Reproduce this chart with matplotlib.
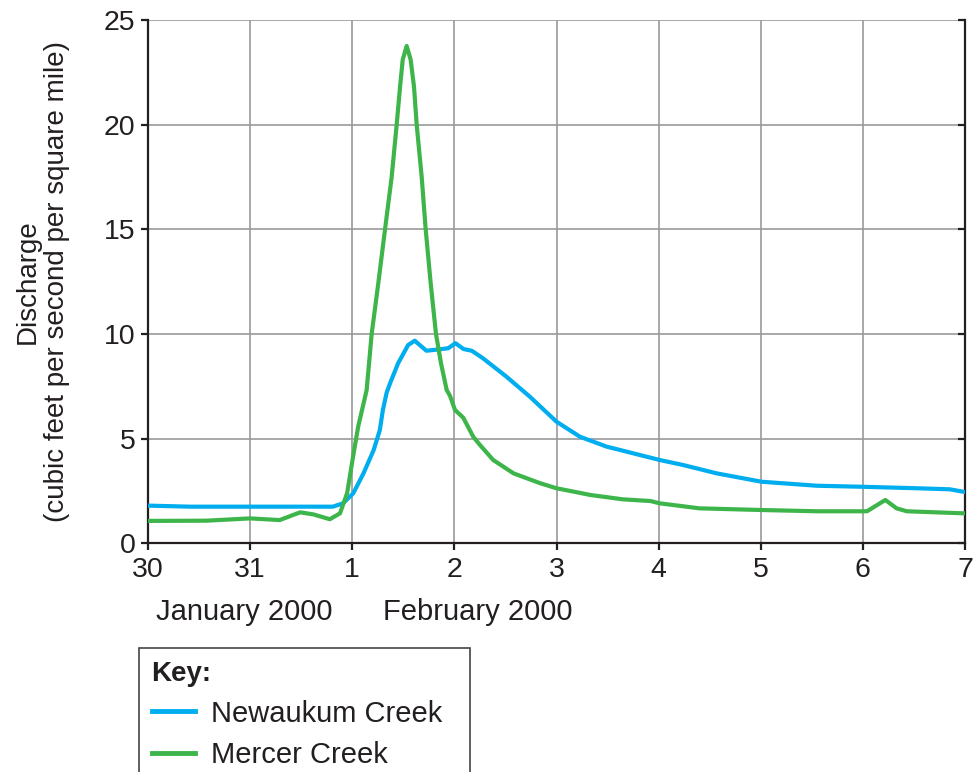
import matplotlib
matplotlib.use("Agg")
import numpy as np
from matplotlib import pyplot as plt

plt.rcParams['font.family'] = ['Liberation Sans', 'DejaVu Sans']

# days since 30 January 2000
tick_days = [0, 1, 2, 3, 4, 5, 6, 7, 8]
tick_labels = ["30", "31", "1", "2", "3", "4", "5", "6", "7"]

newaukum_days = [0.00, 0.41, 1.00, 1.55, 1.81, 1.91, 2.01, 2.11, 2.21, 2.27, 2.30,
                 2.337, 2.37, 2.449, 2.547, 2.612, 2.661, 2.726, 2.86, 2.94, 3.01,
                 3.09, 3.17, 3.28, 3.51, 3.74, 4.00, 4.23, 4.49, 4.75, 5.01, 5.24,
                 5.57, 6.01, 6.55, 7.00, 7.53, 7.85, 8.00]
newaukum_q = [1.80, 1.75, 1.75, 1.75, 1.75, 1.91, 2.39, 3.34, 4.46, 5.41, 6.37,
              7.20, 7.64, 8.60, 9.47, 9.68, 9.47, 9.20, 9.27, 9.32, 9.56,
              9.28, 9.20, 8.84, 7.96, 7.00, 5.81, 5.09, 4.62, 4.30, 3.98, 3.74,
              3.34, 2.94, 2.75, 2.70, 2.63, 2.58, 2.45]

mercer_days = [0.00, 0.57, 1.00, 1.29, 1.49, 1.62, 1.78, 1.88, 1.95, 2.01, 2.058,
               2.141, 2.190, 2.255, 2.321, 2.386, 2.435, 2.468, 2.494, 2.533, 2.572,
               2.605, 2.631, 2.680, 2.719, 2.768, 2.820, 2.869, 2.925, 2.957, 3.006,
               3.087, 3.185, 3.25, 3.38, 3.58, 3.84, 4.00, 4.33, 4.65, 4.92, 5.01,
               5.40, 6.01, 6.55, 7.04, 7.14, 7.22, 7.33, 7.43, 8.00]
mercer_q = [1.07, 1.08, 1.19, 1.11, 1.48, 1.38, 1.15, 1.43, 2.40, 4.20, 5.57,
            7.32, 10.0, 12.42, 15.0, 17.5, 20.0, 21.8, 23.1, 23.76, 23.1,
            21.8, 20.0, 17.5, 15.0, 12.42, 10.0, 8.60, 7.32, 7.05, 6.37,
            6.00, 5.09, 4.70, 3.98, 3.34, 2.87, 2.63, 2.31, 2.10, 2.02, 1.91,
            1.67, 1.59, 1.53, 1.53, 1.83, 2.07, 1.67, 1.53, 1.43]

blue = "#00aeef"
green = "#3db54a"
dark = "#231f20"

fig = plt.figure(figsize=(9.76, 7.72), dpi=100)
ax = fig.add_axes([148 / 976, 1 - 543.3 / 772, (965 - 148) / 976, (543.3 - 20) / 772])

ax.plot(newaukum_days, newaukum_q, color=blue, lw=3, label="Newaukum Creek",
        solid_joinstyle="round", zorder=3)
ax.plot(mercer_days, mercer_q, color=green, lw=3, label="Mercer Creek",
        solid_joinstyle="round", zorder=3)

ax.set_xlim(0, 8)
ax.set_ylim(0, 25)
ax.set_xticks(tick_days)
ax.set_xticklabels(tick_labels)
ax.set_yticks([0, 5, 10, 15, 20, 25])
ax.grid(True, color="#9a9a9a", lw=1.2)
ax.set_axisbelow(True)

ax.spines["top"].set_visible(False)
for s in ["left", "bottom", "right"]:
    ax.spines[s].set_color(dark)
    ax.spines[s].set_linewidth(1.6)

ax.tick_params(axis="both", labelsize=20.5, colors=dark, width=1.6, length=5)
ax.tick_params(axis="x", direction="out", pad=5)
ax.tick_params(axis="y", direction="out", pad=4)
ax.tick_params(axis="y", which="both", right=True, labelright=False)
for t in ax.yaxis.get_ticklines()[1::2]:
    t.set_marker(0)  # inward tick on the right spine
    t.set_markersize(5)

ax.set_ylabel("Discharge\n(cubic feet per second per square mile)", fontsize=20,
              color=dark, linespacing=1.15)
ax.yaxis.set_label_coords(-(148 - 70) / 817, 0.5)

fig.text(244 / 976, 1 - 612 / 772, "January 2000", fontsize=21, color=dark,
         ha="center", va="center")
fig.text(477.5 / 976, 1 - 612 / 772, "February 2000", fontsize=21, color=dark,
         ha="center", va="center")

leg = fig.legend(loc="upper left",
                 bbox_to_anchor=(139.3 / 976, 0, (470 - 139.3) / 976, 1 - 648.3 / 772),
                 mode="expand", borderaxespad=0, title="Key:", alignment="left",
                 fontsize=21, title_fontproperties={"weight": "bold", "size": 20},
                 handlelength=1.48, handletextpad=0.57, labelspacing=0.45,
                 borderpad=0.42, fancybox=False, framealpha=1, edgecolor="#444444")
leg.get_frame().set_linewidth(1.2)
for h in leg.legend_handles:
    h.set_linewidth(3.5)
for t in leg.get_texts():
    t.set_color(dark)
leg.get_title().set_color(dark)

fig.savefig("out.png", dpi=100)
